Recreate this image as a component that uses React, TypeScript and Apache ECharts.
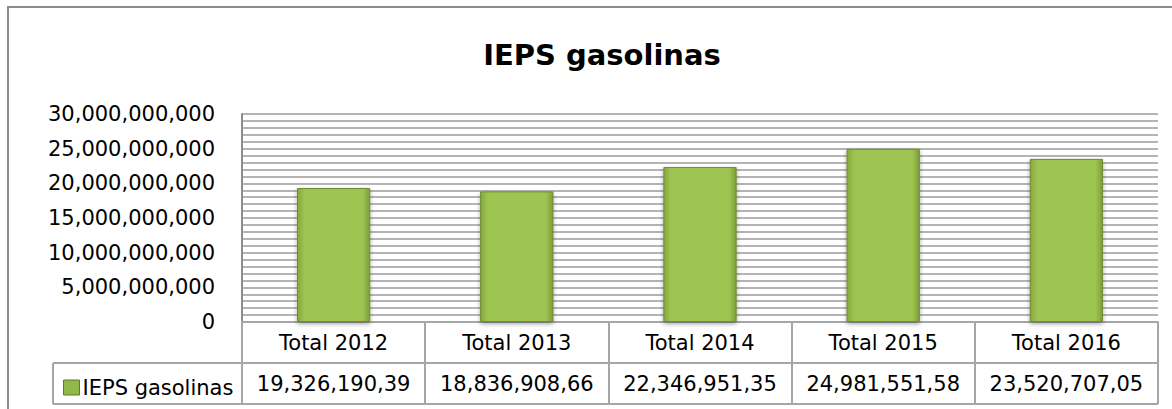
import React, { useEffect, useRef } from "react";
import * as echarts from "echarts";

const categories = ["Total 2012", "Total 2013", "Total 2014", "Total 2015", "Total 2016"];
const seriesName = "IEPS gasolinas";
const values = [19326190390, 18836908660, 22346951350, 24981551580, 23520707050];
const tableValues = ["19,326,190,39", "18,836,908,66", "22,346,951,35", "24,981,551,58", "23,520,707,05"];
const yMin = 0;
const yMax = 30000000000;
const yInterval = 5000000000;

const FONT = "DejaVu Sans";

function fmt(v: number): string {
  return String(Math.round(v)).replace(/\B(?=(\d{3})+(?!\d))/g, ",");
}

export default function App() {
  const ref = useRef<HTMLDivElement>(null);
  useEffect(() => {
    if (!ref.current) return;
    const chart = echarts.init(ref.current, undefined, { renderer: "svg" });
    const gridLeft = 242;
    const gridRight = 1158;
    const gridTop = 114;
    const gridBottom = 322;
    const rowMid = 363;
    const rowEnd = 404;
    const lineColor = "#a6a6a6";
    const barFill = new echarts.graphic.LinearGradient(0, 0, 1, 0, [
      { offset: 0, color: "#86a83f" },
      { offset: 0.1, color: "#9ec551" },
      { offset: 0.9, color: "#9ec551" },
      { offset: 1, color: "#7f9d3b" },
    ]);
    chart.setOption({
      animation: false,
      title: {
        text: "IEPS gasolinas",
        left: 597,
        textAlign: "center",
        top: 35,
        textStyle: { fontFamily: FONT, fontSize: 29, fontWeight: "bold", color: "#000" },
      },
      legend: {
        data: [seriesName],
        left: 58,
        top: 372,
        itemWidth: 16,
        itemHeight: 15,
        itemGap: 4,
        icon: "rect",
        textStyle: { fontFamily: FONT, fontSize: 21, color: "#000", padding: [0, 0, 0, -2] },
        itemStyle: { color: "#92b84a", borderColor: "#5f7a2a", borderWidth: 1 },
      },
      grid: { left: gridLeft, right: 1172 - gridRight, top: gridTop, bottom: 409 - gridBottom, containLabel: false },
      xAxis: [
        {
          type: "category",
          data: categories,
          position: "bottom",
          axisLine: { show: true, lineStyle: { color: lineColor, width: 2 } },
          axisTick: { show: true, length: rowEnd - gridBottom, alignWithLabel: false, lineStyle: { color: lineColor, width: 2 } },
          axisLabel: { interval: 0, margin: 10, fontFamily: FONT, fontSize: 21, color: "#000" },
        },
        {
          type: "category",
          data: categories,
          position: "bottom",
          offset: rowMid - gridBottom,
          axisLine: { show: false },
          axisTick: { show: false },
          axisLabel: {
            interval: 0,
            margin: 10,
            fontFamily: FONT,
            fontSize: 21,
            color: "#000",
            formatter: (_v: string, i: number) => tableValues[i],
          },
        },
      ],
      yAxis: {
        type: "value",
        min: yMin,
        max: yMax,
        interval: yInterval,
        axisLine: { show: true, lineStyle: { color: "#8c8c8c", width: 2 } },
        axisTick: { show: false },
        axisLabel: { margin: 27, fontFamily: FONT, fontSize: 21, color: "#000", formatter: (v: number) => fmt(v) },
        splitLine: { show: true, lineStyle: { color: "#b4b4b4", width: 2 } },
        minorTick: { show: false, splitNumber: 5 },
        minorSplitLine: { show: true, lineStyle: { color: "#b4b4b4", width: 2 } },
      },
      series: [
        {
          name: seriesName,
          type: "bar",
          xAxisIndex: 0,
          data: values,
          barWidth: "40%",
          itemStyle: {
            color: barFill,
            borderColor: "#6f8c32",
            borderWidth: 1,
            shadowColor: "rgba(0,0,0,0.35)",
            shadowBlur: 4,
            shadowOffsetY: 2,
          },
        },
      ],
      graphic: [
        {
          type: "rect",
          shape: { x: 8, y: 7, width: 1300, height: 600 },
          style: { fill: "none", stroke: "#8c8c8c", lineWidth: 2 },
          silent: true,
        },
        {
          type: "line",
          shape: { x1: 53, y1: rowMid, x2: gridRight, y2: rowMid },
          style: { stroke: lineColor, lineWidth: 2 },
          silent: true,
        },
        {
          type: "line",
          shape: { x1: 53, y1: rowEnd, x2: gridRight, y2: rowEnd },
          style: { stroke: lineColor, lineWidth: 2 },
          silent: true,
        },
        {
          type: "line",
          shape: { x1: 53, y1: rowMid, x2: 53, y2: rowEnd },
          style: { stroke: lineColor, lineWidth: 2 },
          silent: true,
        },
      ],
    });
    return () => chart.dispose();
  }, []);
  return (
    <div
      ref={ref}
      style={{ position: "absolute", left: 0, top: 0, width: 1172, height: 409, background: "#fff" }}
    />
  );
}
